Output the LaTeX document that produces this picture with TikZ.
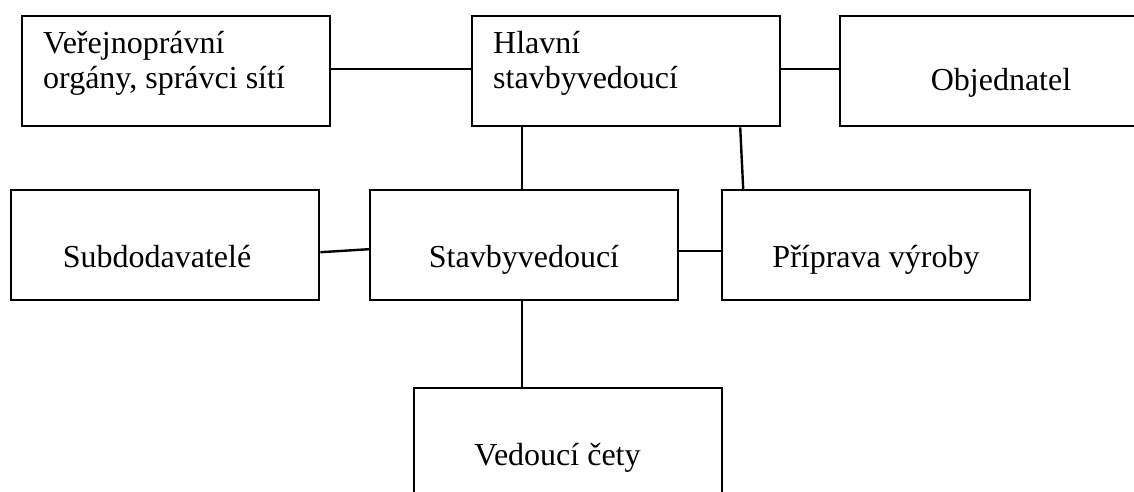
\documentclass[tikz,border=0pt]{standalone}
\usepackage{fontspec}
\setmainfont{Liberation Serif}
\begin{document}
\begin{tikzpicture}[x=1pt,y=-1pt,
  box/.style={draw, line width=2.4pt, minimum width=308pt, minimum height=110pt, inner sep=0pt, anchor=north west},
  lbl/.style={font=\fontsize{32}{35}\selectfont, inner sep=0pt},
  link/.style={line width=2.4pt}]
\useasboundingbox (0,0) rectangle (1134,492);
\clip (0,0) rectangle (1134,492);
\fill[white] (0,0) rectangle (1134,492);
\node[box] (b1) at (21,15) {};
\node[box] (b2) at (471,15) {};
\node[box] (b3) at (839,15) {};
\node[box] (b4) at (10,189) {};
\node[box] (b5) at (369,189) {};
\node[box] (b6) at (721,189) {};
\node[box] (b7) at (413,387) {};
\node[lbl, anchor=base west, align=left] (t1) at (43,89) {Veřejnoprávní\\orgány, správci sítí};
\node[lbl, anchor=base west, align=left] (t2) at (493,89) {Hlavní\\stavbyvedoucí};
\node[lbl, anchor=base] (t3) at (1001,91) {Objednatel};
\node[lbl, anchor=base] (t4) at (157,267) {Subdodavatelé};
\node[lbl, anchor=base] (t5) at (524,267) {Stavbyvedoucí};
\node[lbl, anchor=base] (t6) at (876,267) {Příprava výroby};
\node[lbl, anchor=base] (t7) at (557.5,465) {Vedoucí čety};
\draw[link] ([yshift=2pt]b1.east) -- ([yshift=2pt]b1.east -| b2.west);
\draw[link] ([yshift=2pt]b2.east) -- ([yshift=2pt]b2.east -| b3.west);
\draw[link] ([xshift=-2pt]b5.north) -- ([xshift=-2pt]b5.north |- b2.south);
\draw[link] ([xshift=114pt]b2.south) -- ([xshift=-133pt]b6.north);
\draw[link] ([yshift=-7pt]b4.east) -- ([yshift=-4pt]b5.west);
\draw[link] ([yshift=-6pt]b5.east) -- ([yshift=-6pt]b5.east -| b6.west);
\draw[link] ([xshift=-2pt]b5.south) -- ([xshift=-2pt]b5.south |- b7.north);
\end{tikzpicture}
\end{document}
